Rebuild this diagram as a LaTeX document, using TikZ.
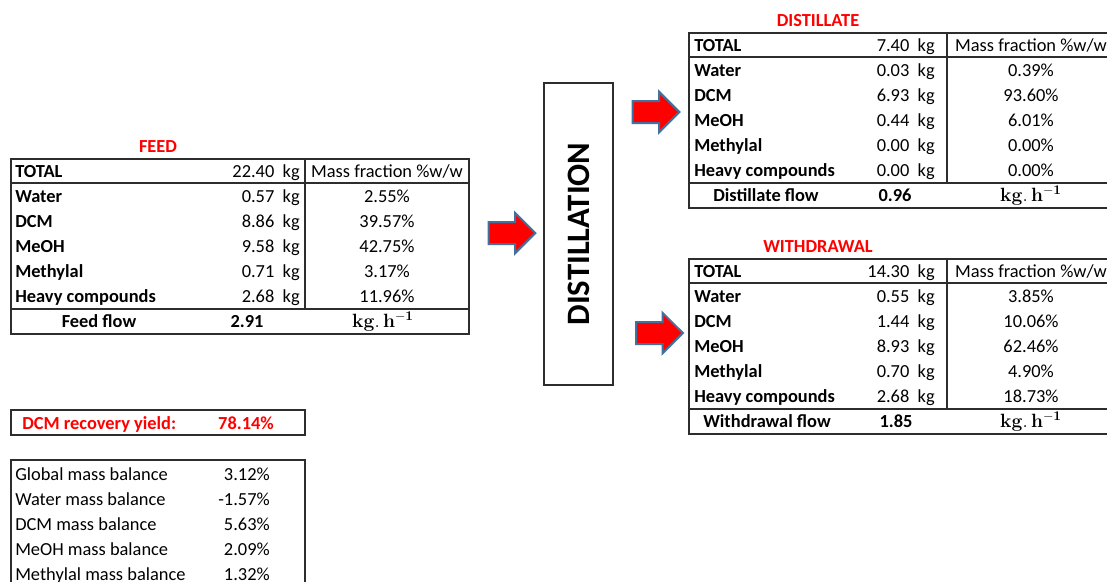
\documentclass[tikz,border=0pt]{standalone}
\usepackage{amsmath}
\usepackage[no-math]{fontspec}
\setmainfont{Carlito}
\usetikzlibrary{shapes.arrows}
\definecolor{arrowblue}{RGB}{65,113,156}
\definecolor{gridgray}{RGB}{45,45,45}

\begin{document}
\begin{tikzpicture}[x=0.75pt, y=-0.75pt,
                    font=\fontsize{13.8}{16}\selectfont,
                    rowname/.style={inner sep=0pt, anchor=base west, font=\fontsize{13.8}{16}\selectfont\bfseries},
                    qty/.style={inner sep=0pt, anchor=base east},
                    frac/.style={inner sep=0pt, anchor=base},
                    flowcell/.style={inner sep=0pt, anchor=base, font=\fontsize{13.8}{16}\selectfont\bfseries},
                    unitcell/.style={inner sep=0pt, anchor=base, font=\fontsize{14.5}{16}\selectfont},
                    tabletitle/.style={inner sep=0pt, anchor=base, text=red, font=\fontsize{13.8}{16}\selectfont\bfseries},
                    grid/.style={draw=gridgray, line width=0.8pt},
                    flowarrow/.style={single arrow, fill=red, draw=arrowblue, line width=1.5pt, inner sep=7.5pt,
                                      minimum height=35pt, single arrow head extend=7pt}]
  \clip (0,0) rectangle (1107,582);
  % feed
  \node[tabletitle] (feedTitle) at (158,152) {FEED};
  \draw[grid] (11,159) rectangle (469,334);
  \draw[grid] (11,183) -- (469,183) (11,309) -- (469,309) (305,159) -- (305,309);
  \node[rowname] (feedTot) at (15,177) {TOTAL};
  \node[qty] (feedTotQ) at (300,177) {22.40~~kg};
  \node[frac] (feedHead) at (387,177) {Mass fraction \%w/w};
  \node[rowname] (feedWat) at (15,202) {Water};
  \node[qty] (feedWatQ) at (300,202) {0.57~~kg};
  \node[frac] (feedWatF) at (387,202) {2.55\%};
  \node[rowname] (feedDcm) at (15,227) {DCM};
  \node[qty] (feedDcmQ) at (300,227) {8.86~~kg};
  \node[frac] (feedDcmF) at (387,227) {39.57\%};
  \node[rowname] (feedMeoh) at (15,252) {MeOH};
  \node[qty] (feedMeohQ) at (300,252) {9.58~~kg};
  \node[frac] (feedMeohF) at (387,252) {42.75\%};
  \node[rowname] (feedMeth) at (15,277) {Methylal};
  \node[qty] (feedMethQ) at (300,277) {0.71~~kg};
  \node[frac] (feedMethF) at (387,277) {3.17\%};
  \node[rowname] (feedHvy) at (15,302) {Heavy compounds};
  \node[qty] (feedHvyQ) at (300,302) {2.68~~kg};
  \node[frac] (feedHvyF) at (387,302) {11.96\%};
  \node[flowcell] (feedFlow) at (99,327.5) {Feed flow};
  \node[flowcell] (feedFlowQ) at (247,327.5) {2.91};
  \node[unitcell] (feedUnit) at (383,327.5) {$\mathbf{kg.\,h^{-1}}$};

  % distillate
  \node[tabletitle] (distTitle) at (818,26) {DISTILLATE};
  \draw[grid] (689,33) rectangle (1115,208);
  \draw[grid] (689,57) -- (1115,57) (689,183) -- (1115,183) (947,33) -- (947,183);
  \node[rowname] (distTot) at (694,51.5) {TOTAL};
  \node[qty] (distTotQ) at (935,51.5) {7.40~~kg};
  \node[frac] (distHead) at (1031,51.5) {Mass fraction \%w/w};
  \node[rowname] (distWat) at (694,76.5) {Water};
  \node[qty] (distWatQ) at (935,76.5) {0.03~~kg};
  \node[frac] (distWatF) at (1031,76.5) {0.39\%};
  \node[rowname] (distDcm) at (694,101.5) {DCM};
  \node[qty] (distDcmQ) at (935,101.5) {6.93~~kg};
  \node[frac] (distDcmF) at (1031,101.5) {93.60\%};
  \node[rowname] (distMeoh) at (694,126.5) {MeOH};
  \node[qty] (distMeohQ) at (935,126.5) {0.44~~kg};
  \node[frac] (distMeohF) at (1031,126.5) {6.01\%};
  \node[rowname] (distMeth) at (694,151.5) {Methylal};
  \node[qty] (distMethQ) at (935,151.5) {0.00~~kg};
  \node[frac] (distMethF) at (1031,151.5) {0.00\%};
  \node[rowname] (distHvy) at (694,176.5) {Heavy compounds};
  \node[qty] (distHvyQ) at (935,176.5) {0.00~~kg};
  \node[frac] (distHvyF) at (1031,176.5) {0.00\%};
  \node[flowcell] (distFlow) at (766,201.5) {Distillate flow};
  \node[flowcell] (distFlowQ) at (895,201.5) {0.96};
  \node[unitcell] (distUnit) at (1031,201.5) {$\mathbf{kg.\,h^{-1}}$};

  % withdrawal
  \node[tabletitle] (withTitle) at (818,252) {WITHDRAWAL};
  \draw[grid] (689,259) rectangle (1115,434);
  \draw[grid] (689,283) -- (1115,283) (689,409) -- (1115,409) (947,259) -- (947,409);
  \node[rowname] (withTot) at (694,277) {TOTAL};
  \node[qty] (withTotQ) at (935,277) {14.30~~kg};
  \node[frac] (withHead) at (1031,277) {Mass fraction \%w/w};
  \node[rowname] (withWat) at (694,302) {Water};
  \node[qty] (withWatQ) at (935,302) {0.55~~kg};
  \node[frac] (withWatF) at (1031,302) {3.85\%};
  \node[rowname] (withDcm) at (694,327) {DCM};
  \node[qty] (withDcmQ) at (935,327) {1.44~~kg};
  \node[frac] (withDcmF) at (1031,327) {10.06\%};
  \node[rowname] (withMeoh) at (694,352) {MeOH};
  \node[qty] (withMeohQ) at (935,352) {8.93~~kg};
  \node[frac] (withMeohF) at (1031,352) {62.46\%};
  \node[rowname] (withMeth) at (694,377) {Methylal};
  \node[qty] (withMethQ) at (935,377) {0.70~~kg};
  \node[frac] (withMethF) at (1031,377) {4.90\%};
  \node[rowname] (withHvy) at (694,402) {Heavy compounds};
  \node[qty] (withHvyQ) at (935,402) {2.68~~kg};
  \node[frac] (withHvyF) at (1031,402) {18.73\%};
  \node[flowcell] (withFlow) at (767,427.5) {Withdrawal flow};
  \node[flowcell] (withFlowQ) at (896,427.5) {1.85};
  \node[unitcell] (withUnit) at (1031,427.5) {$\mathbf{kg.\,h^{-1}}$};

  % column and arrows
  \node[draw=gridgray, line width=0.8pt, rotate=90, minimum width=226.5pt, minimum height=51.75pt,
        font=\fontsize{24.5}{28}\selectfont\bfseries] (column) at (578.5,234) {DISTILLATION};
  \node[flowarrow] (feedArrow) at (506.5,233) {};
  \node[flowarrow] (distArrow) at (650.5,112) {};
  \node[flowarrow] (withArrow) at (654,333) {};

  % yield and balances
  \draw[grid] (11,410) rectangle (305,435);
  \node[rowname, text=red] (yieldLbl) at (22,429) {DCM recovery yield:};
  \node[flowcell, text=red] (yieldVal) at (246,429) {78.14\%};
  \draw[grid] (11,460) rectangle (305,600);
  \node[inner sep=0pt, anchor=base west] (balGlob) at (15,480) {Global mass balance};
  \node[qty] (balGlobV) at (270,480) {3.12\%};
  \node[inner sep=0pt, anchor=base west] (balWat) at (15,505) {Water mass balance};
  \node[qty] (balWatV) at (270,505) {-1.57\%};
  \node[inner sep=0pt, anchor=base west] (balDcm) at (15,530) {DCM mass balance};
  \node[qty] (balDcmV) at (270,530) {5.63\%};
  \node[inner sep=0pt, anchor=base west] (balMeoh) at (15,555) {MeOH mass balance};
  \node[qty] (balMeohV) at (270,555) {2.09\%};
  \node[inner sep=0pt, anchor=base west] (balMeth) at (15,580) {Methylal mass balance};
  \node[qty] (balMethV) at (270,580) {1.32\%};
\end{tikzpicture}
\end{document}
